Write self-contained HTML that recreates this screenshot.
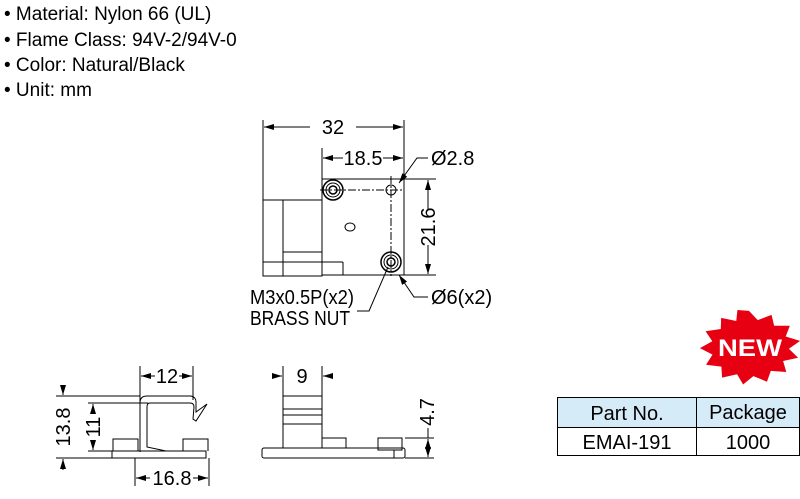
<!DOCTYPE html>
<html><head><meta charset="utf-8"><style>
body{margin:0;background:#fff;width:800px;height:494px;overflow:hidden;font-family:"Liberation Sans",sans-serif}
</style></head><body>
<svg width="800" height="494" xmlns="http://www.w3.org/2000/svg" font-family="Liberation Sans, sans-serif">
<defs><marker id="a" viewBox="0 0 10 6" refX="10" refY="3" markerWidth="10" markerHeight="6" orient="auto-start-reverse" markerUnits="userSpaceOnUse"><path d="M0,0L10,3L0,6z" fill="#000"/></marker></defs>
<g font-size="19" fill="#000">
<text x="4" y="20">• Material: Nylon 66 (UL)</text>
<text x="4" y="46">• Flame Class: 94V-2/94V-0</text>
<text x="4" y="71">• Color: Natural/Black</text>
<text x="4" y="96">• Unit: mm</text>
</g>
<g stroke="#000" stroke-width="1" fill="none">
<line x1="263" y1="120" x2="263" y2="200"/><line x1="404" y1="120" x2="404" y2="180"/>
<line x1="264" y1="127" x2="310" y2="127" marker-start="url(#a)"/><line x1="356" y1="127" x2="403" y2="127" marker-end="url(#a)"/>
<line x1="322" y1="148" x2="322" y2="180"/>
<line x1="323" y1="158" x2="343" y2="158" marker-start="url(#a)"/><line x1="383" y1="158" x2="403" y2="158" marker-end="url(#a)"/>
<rect x="322" y="179" width="82" height="96"/>
<rect x="263" y="200" width="59" height="76"/>
<rect x="283" y="200" width="39" height="76"/>
<line x1="283" y1="252" x2="322" y2="252"/><line x1="263" y1="262" x2="343" y2="262"/><line x1="343" y1="262" x2="343" y2="275"/>
<line x1="404" y1="179" x2="436" y2="179"/><line x1="404" y1="275" x2="436" y2="275"/>
<line x1="428" y1="180" x2="428" y2="210" marker-start="url(#a)"/><line x1="428" y1="245" x2="428" y2="274" marker-end="url(#a)"/>
<line x1="320" y1="190" x2="404" y2="190" stroke-dasharray="8,2,2,2"/>
<line x1="391" y1="176" x2="391" y2="276" stroke-dasharray="8,2,2,2"/>
<circle cx="333" cy="190" r="10" stroke-width="1.5"/><circle cx="333" cy="190" r="7"/><circle cx="333" cy="190" r="4" stroke-width="1.5"/>
<circle cx="391" cy="262" r="10" stroke-width="1.5"/><circle cx="391" cy="262" r="7"/><circle cx="391" cy="262" r="4" stroke-width="1.5"/>
<circle cx="391" cy="190" r="5"/>
<ellipse cx="350" cy="227" rx="5" ry="4"/>
<polyline points="428,158 417,158 399,183" marker-end="url(#a)"/>
<polyline points="428,297 414,297 399,275" marker-end="url(#a)"/>
<polyline points="357,311 369,311 388,267"/>
<line x1="140" y1="366" x2="140" y2="452"/><line x1="193" y1="366" x2="193" y2="400"/>
<line x1="141" y1="376" x2="155" y2="376" marker-start="url(#a)"/><line x1="179" y1="376" x2="192" y2="376" marker-end="url(#a)"/>
<line x1="56" y1="396" x2="140" y2="396"/><line x1="56" y1="458" x2="112" y2="458"/>
<line x1="63" y1="385" x2="63" y2="395" marker-end="url(#a)"/><line x1="63" y1="470" x2="63" y2="459" marker-end="url(#a)"/>
<line x1="88" y1="403" x2="148" y2="403"/><line x1="88" y1="451" x2="112" y2="451"/>
<line x1="93" y1="412" x2="93" y2="404" marker-end="url(#a)"/><line x1="93" y1="440" x2="93" y2="450" marker-end="url(#a)"/>
<path d="M112,451 H206 V458 H112 Z"/>
<path d="M113,451 V439 H138 V451"/><path d="M183,451 V439 H208 V451"/>
<path d="M140,451 V403 Q140,396 147,396 H191 Q196,397 196,402 V412 L207,404 L196,421 L193,419 L194,407 Q194,403 190,403 H150 Q147,403 147,407 V447 L166,451"/>
<line x1="135" y1="458" x2="135" y2="486"/><line x1="209" y1="458" x2="209" y2="486"/>
<line x1="136" y1="478" x2="150" y2="478" marker-start="url(#a)"/><line x1="193" y1="478" x2="208" y2="478" marker-end="url(#a)"/>
<line x1="283" y1="366" x2="283" y2="396"/><line x1="322" y1="366" x2="322" y2="396"/>
<line x1="272" y1="376" x2="282" y2="376" marker-end="url(#a)"/><line x1="333" y1="376" x2="323" y2="376" marker-end="url(#a)"/>
<rect x="283" y="396" width="39" height="52"/>
<line x1="283" y1="409" x2="322" y2="409"/><line x1="283" y1="415" x2="322" y2="415"/><line x1="283" y1="424" x2="322" y2="424"/>
<rect x="262" y="448" width="143" height="10" rx="2"/>
<rect x="322" y="438" width="24" height="10"/><rect x="378" y="438" width="24" height="12"/>
<line x1="394" y1="450" x2="394" y2="458"/>
<line x1="405" y1="438" x2="434" y2="438"/><line x1="405" y1="458" x2="434" y2="458"/>
<line x1="428" y1="448" x2="428" y2="439" marker-end="url(#a)"/><line x1="428" y1="448" x2="428" y2="457" marker-end="url(#a)"/>
<line x1="428" y1="428" x2="428" y2="438"/>
</g>
<g font-size="20" fill="#000">
<text x="333" y="134" text-anchor="middle">32</text>
<text x="363" y="165" text-anchor="middle">18.5</text>
<text x="431" y="165">Ø2.8</text>
<text x="431" y="304">Ø6(x2)</text>
<text x="250" y="304" textLength="104" lengthAdjust="spacingAndGlyphs">M3x0.5P(x2)</text>
<text x="250" y="325" textLength="100" lengthAdjust="spacingAndGlyphs">BRASS NUT</text>
<text transform="translate(435,227) rotate(-90)" text-anchor="middle">21.6</text>
<text x="167" y="383" text-anchor="middle">12</text>
<text x="302" y="383" text-anchor="middle">9</text>
<text x="172" y="485" text-anchor="middle">16.8</text>
<text transform="translate(70,427) rotate(-90)" text-anchor="middle">13.8</text>
<text transform="translate(100,427) rotate(-90)" text-anchor="middle">11</text>
<text transform="translate(434,412) rotate(-90)" text-anchor="middle">4.7</text>
</g>
<g transform="translate(749,347) scale(1.18,0.84) translate(-750,-353)">
<polygon fill="#e60012" points="750.0,310.0 757.4,321.0 769.1,314.7 771.3,327.7 784.6,327.7 781.1,340.5 793.3,345.8 783.8,355.1 791.6,365.8 778.9,369.7 781.6,382.7 768.5,381.4 765.2,394.3 753.7,387.6 745.0,397.6 739.9,385.4 727.2,389.5 726.6,376.3 713.6,374.1 719.1,362.1 708.4,354.3 718.9,346.2 713.2,334.2 726.1,331.5 726.4,318.3 739.2,322.1 740.2,308.9 750.0,310.0"/>
</g>
<text x="750" y="356" font-size="24" font-weight="bold" fill="#fff" text-anchor="middle" textLength="64" lengthAdjust="spacingAndGlyphs">NEW</text>
<g>
<rect x="557.5" y="397.5" width="242" height="30" fill="#d6ebf8" stroke="#000"/>
<rect x="557.5" y="427.5" width="242" height="28" fill="#fff" stroke="#000"/>
<line x1="696.5" y1="397" x2="696.5" y2="456" stroke="#000"/>
<g font-size="20" fill="#000" text-anchor="middle">
<text x="627" y="420">Part No.</text><text x="748" y="419">Package</text>
<text x="627" y="449">EMAI-191</text><text x="748" y="449">1000</text>
</g></g>
</svg>
</body></html>
